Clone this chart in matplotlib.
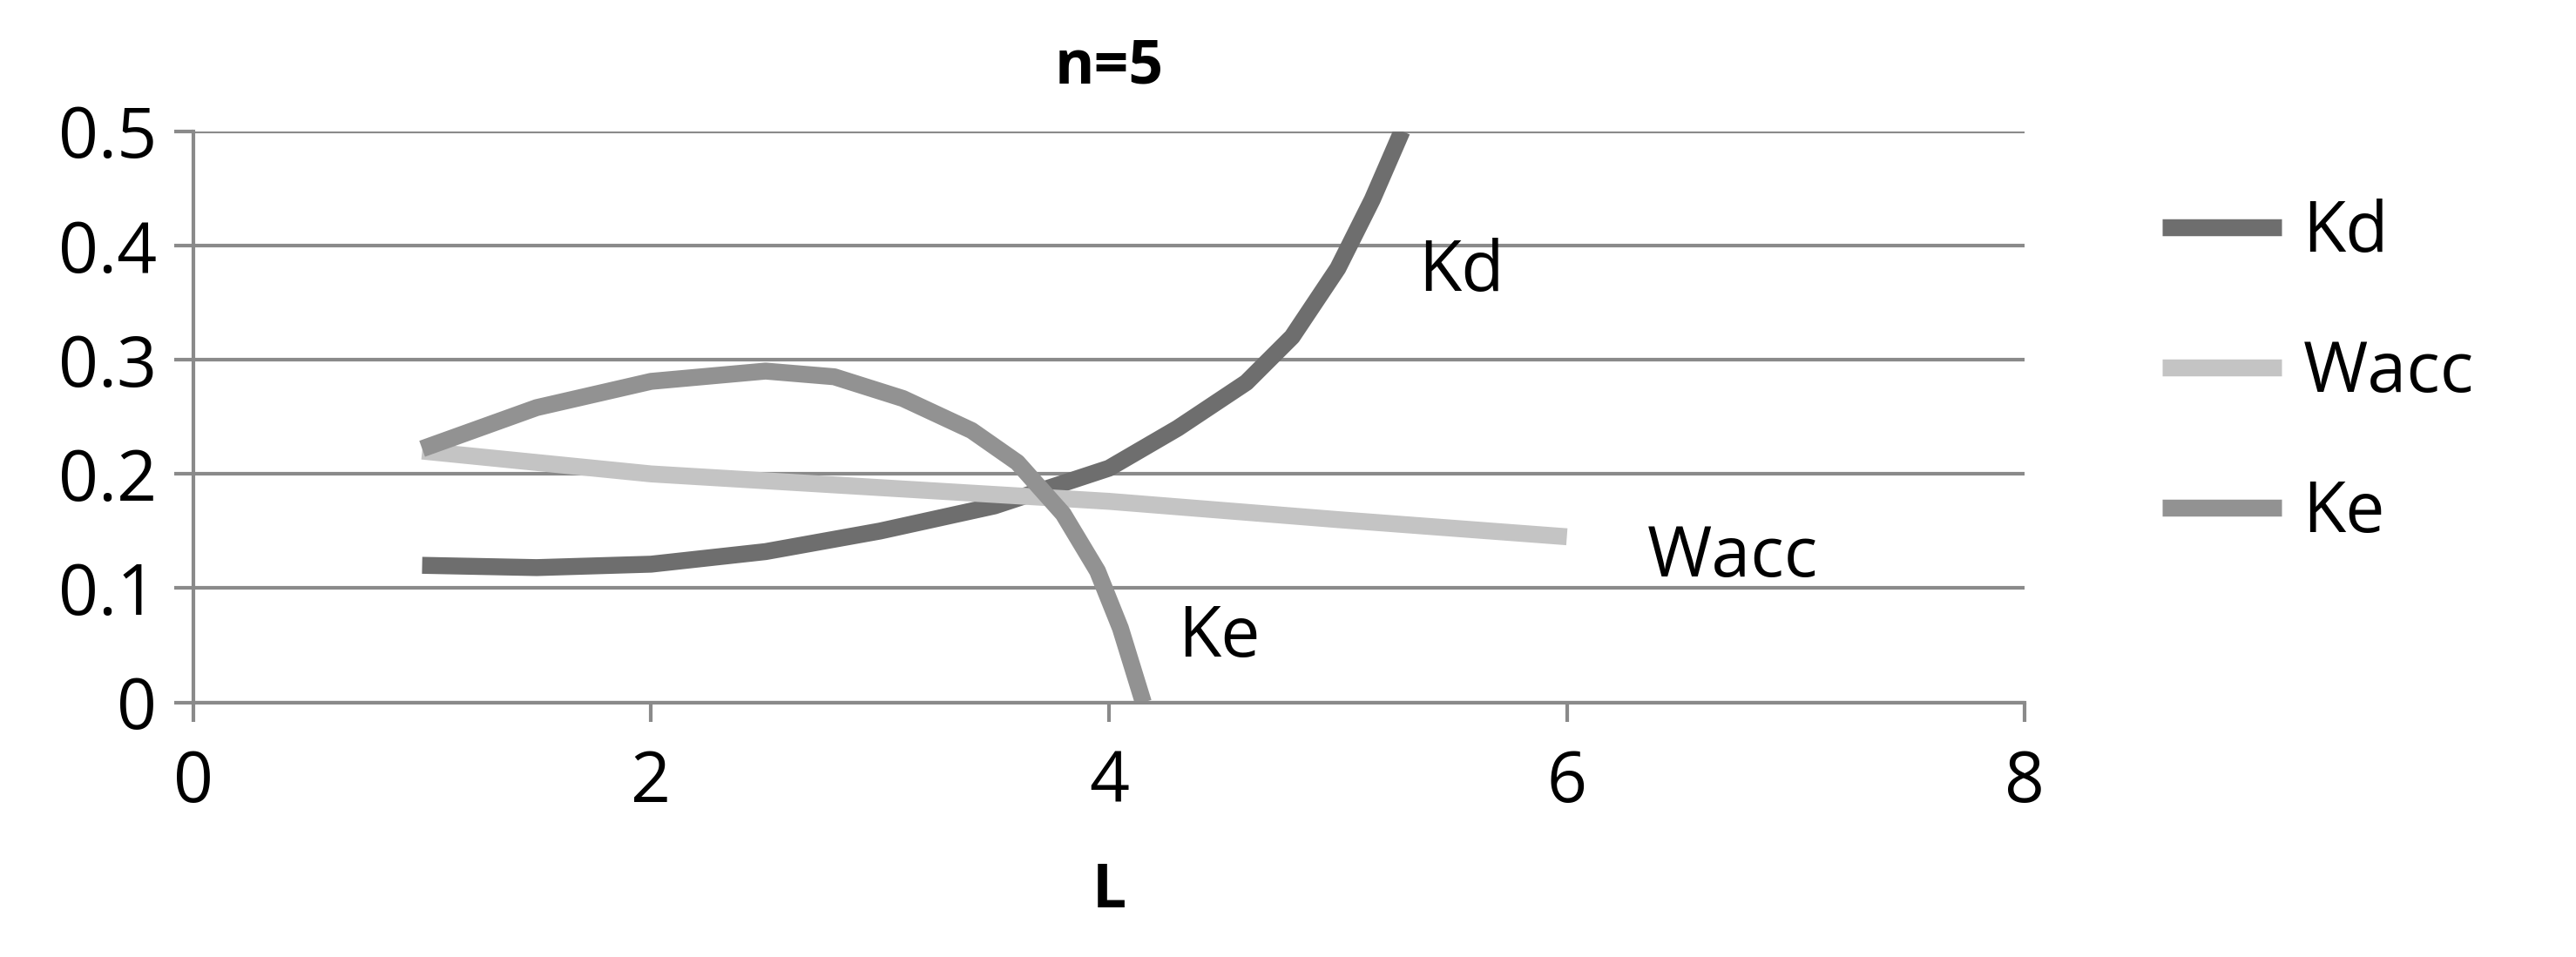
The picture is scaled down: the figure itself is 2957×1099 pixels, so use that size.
import matplotlib.pyplot as plt

plt.rcParams['font.family'] = ['Open Sans', 'DejaVu Sans']

kd_x = [1, 1.5, 2, 2.5, 3, 3.5, 4, 4.3, 4.6, 4.8, 5.0, 5.15, 5.28]
kd_y = [0.12, 0.118, 0.121, 0.132, 0.15, 0.172, 0.205, 0.24, 0.28, 0.32, 0.38, 0.44, 0.5]
wacc_x = [1, 2, 3, 4, 5, 6]
wacc_y = [0.22, 0.20, 0.188, 0.176, 0.16, 0.145]
ke_x = [1, 1.5, 2, 2.5, 2.8, 3.1, 3.4, 3.6, 3.8, 3.95, 4.05, 4.15]
ke_y = [0.222, 0.258, 0.281, 0.29, 0.285, 0.266, 0.238, 0.21, 0.165, 0.115, 0.065, 0.0]

fig = plt.figure(figsize=(29.57, 10.99), dpi=100)
ax = fig.add_axes([0.075, 0.266, 0.711, 0.597])
l1, = ax.plot(kd_x, kd_y, color='#6e6e6e', lw=14, solid_capstyle='butt', label='Kd')
l2, = ax.plot(wacc_x, wacc_y, color='#c4c4c4', lw=14, solid_capstyle='butt', label='Wacc')
l3, = ax.plot(ke_x, ke_y, color='#929292', lw=14, solid_capstyle='butt', label='Ke')

ax.set_xlim(0, 8)
ax.set_ylim(0, 0.5)
ax.set_xticks([0, 2, 4, 6, 8])
ax.set_yticks([0, 0.1, 0.2, 0.3, 0.4, 0.5])
ax.set_yticklabels(['0', '0.1', '0.2', '0.3', '0.4', '0.5'])
ax.yaxis.grid(True, color='#8a8a8a', lw=3)
ax.set_axisbelow(True)
for s in ['top', 'right']:
    ax.spines[s].set_visible(False)
for s in ['left', 'bottom']:
    ax.spines[s].set_color('#8a8a8a')
    ax.spines[s].set_linewidth(3)
ax.tick_params(labelsize=58, length=16, width=3, color='#8a8a8a', pad=14)
ax.tick_params(axis='x', pad=22)
ax.set_title('n=5', fontsize=50, fontweight='bold', pad=40)
ax.set_xlabel('L', fontsize=50, fontweight='bold', labelpad=35)

ax.text(5.35, 0.36, 'Kd', fontsize=58)
ax.text(6.35, 0.11, 'Wacc', fontsize=58)
ax.text(4.3, 0.04, 'Ke', fontsize=58)

fig.legend(handles=[l1, l2, l3], loc='center left', bbox_to_anchor=(0.815, 0.61),
           frameon=False, fontsize=58, handlelength=1.7, labelspacing=1.0,
           handletextpad=0.3)

fig.savefig('out.png')
